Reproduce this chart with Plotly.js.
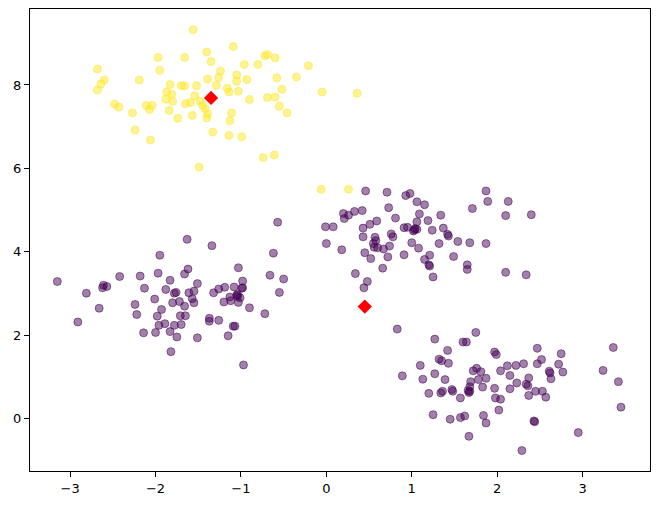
<!DOCTYPE html>
<html>
<head>
<meta charset="utf-8">
<script src="https://cdn.plot.ly/plotly-3.0.1.min.js"></script>
<style>html,body{margin:0;padding:0;background:#fff;}#chart{width:658px;height:505px;}</style>
</head>
<body>
<div id="chart"></div>
<script>
// Cluster 0 (purple) points
const purpleX = [
-3.15,-2.81,-2.91,-2.66,-2.61,-2.57,-2.62,-2.42,-2.18,-2.13,-2.24,-2.22,-2.14,-2.01,-1.95,-1.97,-1.93,-1.98,-2.00,-1.96,
-1.89,-1.88,-1.83,-1.80,-1.78,-1.76,-1.83,-1.82,-1.75,-1.78,-1.70,-1.71,-1.72,-1.66,-1.65,-1.63,-1.62,-1.66,-1.61,-1.57,
-1.55,-1.55,-1.51,-1.51,-1.37,-1.37,-1.34,-1.32,-1.26,-1.26,-1.20,-1.19,-1.13,-1.12,-1.15,-1.09,-1.07,-1.08,-1.05,-1.04,
-1.03,-1.03,-1.01,-0.99,-0.98,-0.98,-0.97,-0.90,-0.72,-0.66,-0.62,-0.57,-0.55,-0.50,-1.04,
0.46,0.71,0.93,0.98,1.06,1.15,1.87,1.89,2.13,1.71,0.73,0.20,0.26,0.33,0.42,0.21,1.34,2.10,2.40,1.09,
-0.01,0.08,0.43,0.51,0.59,0.81,1.06,1.19,0.91,0.95,1.02,1.04,1.06,1.24,1.37,1.42,1.43,0.43,0.57,0.55,
0.76,0.78,0.56,0.60,0.74,0.67,0.00,0.18,0.45,0.52,0.72,0.66,0.91,1.00,1.08,1.32,1.54,1.68,1.87,1.21,
1.15,1.20,1.21,1.49,1.65,1.65,1.25,2.10,2.34,0.34,0.48,0.44,0.83,1.03,0.58,
1.75,1.27,1.60,1.64,1.42,1.97,1.99,2.47,2.75,3.36,1.32,1.35,1.43,1.10,2.12,2.22,2.31,2.47,2.52,2.72,
2.04,1.72,1.76,1.81,2.61,2.62,2.77,3.24,0.89,1.13,1.27,1.39,1.78,1.87,1.69,2.15,2.37,2.63,3.42,2.23,
2.34,2.36,1.68,1.83,1.97,2.15,2.45,2.53,1.20,1.34,1.36,1.47,1.48,1.66,1.67,1.57,2.37,2.57,1.98,2.04,
2.02,1.25,1.45,1.57,1.62,1.84,1.87,2.43,2.44,1.67,2.29,2.95,3.45,1.68
];
const purpleY = [
3.29,3.01,2.32,2.65,3.20,3.17,3.14,3.41,3.42,3.13,2.74,2.50,2.06,2.87,3.92,3.49,2.62,2.46,2.07,2.24,
2.28,3.10,3.32,2.78,3.01,3.03,2.09,1.61,1.96,2.24,2.26,2.47,2.81,2.70,2.47,4.30,3.59,3.47,3.02,2.88,
2.78,3.06,3.24,1.94,2.41,2.34,4.15,3.02,3.11,2.36,2.80,3.15,2.92,2.83,1.99,2.22,2.22,3.16,2.96,2.98,
3.62,2.79,2.90,3.13,3.30,3.14,1.29,2.66,2.52,3.44,3.97,4.71,3.03,3.35,2.93,
5.46,5.43,5.35,5.40,5.20,5.13,5.46,5.21,5.21,5.04,5.06,4.92,4.88,4.97,4.99,4.80,4.88,4.87,4.89,4.91,
4.60,4.60,4.57,4.66,4.74,4.81,4.72,4.75,4.58,4.59,4.50,4.56,4.54,4.52,4.57,4.42,4.38,4.36,4.35,4.20,
4.43,4.36,4.11,4.10,4.14,4.07,4.20,4.05,3.98,3.84,3.88,3.61,3.93,4.22,4.09,4.20,4.25,4.22,4.20,3.92,
3.82,3.69,3.66,3.89,3.69,3.58,3.40,3.51,3.45,3.48,3.29,3.14,2.15,4.53,4.27,
2.07,1.91,1.84,1.84,1.64,1.60,1.54,1.69,1.56,1.71,1.43,1.39,1.33,1.28,1.27,1.28,1.32,1.32,1.42,1.31,
1.15,1.15,1.21,1.13,1.14,1.10,1.12,1.16,1.03,0.95,1.08,0.94,0.94,0.97,0.89,1.04,0.98,0.96,0.89,0.86,
0.83,0.79,0.77,0.76,0.73,0.72,0.66,0.66,0.61,0.62,0.66,0.70,0.66,0.68,0.63,0.50,0.56,0.52,0.50,0.47,
0.21,0.10,-0.01,0.03,0.07,0.08,-0.10,-0.05,-0.07,-0.42,-0.76,-0.33,0.28,0.66
];
// Cluster 1 (yellow) points
const yellowX = [
-1.56,-1.97,-1.66,-1.40,-1.35,-2.68,-1.95,-2.60,-2.64,-2.68,-2.19,-1.83,-1.70,-1.66,-1.52,-1.39,-1.87,-1.81,-1.88,-1.80,
-1.54,-1.65,-1.59,-1.48,-1.45,-1.42,-1.39,-1.40,-1.33,-1.84,-1.74,-1.57,-2.11,-2.04,-2.07,-2.48,-2.43,-2.27,-2.24,-2.06,
-1.49,-1.09,-0.72,-0.69,-0.60,-0.96,-0.80,-0.21,-1.24,-1.05,-1.26,-1.05,-0.93,-0.58,-0.35,-1.29,-1.16,-1.14,-1.03,-0.52,
-0.05,-0.90,-0.69,-0.60,-1.11,-1.13,-0.55,-0.46,-1.14,-0.99,-0.74,-0.61,-0.06,0.26,0.36
];
const yellowY = [
9.32,8.66,8.66,8.79,8.56,8.38,8.35,8.12,8.02,7.88,8.12,8.01,7.98,7.98,7.98,8.14,7.83,7.78,7.66,7.61,
7.74,7.55,7.58,7.61,7.51,7.43,7.31,7.21,6.87,7.39,7.20,7.27,7.51,7.51,7.41,7.54,7.47,7.33,6.92,6.68,
6.03,8.92,8.70,8.73,8.65,8.49,8.49,8.46,8.33,8.24,8.18,8.09,8.13,8.17,8.19,7.99,7.92,7.83,7.85,7.90,
7.83,7.65,7.70,7.71,7.33,7.14,7.49,7.33,6.79,6.76,6.26,6.32,5.50,5.50,7.80
];
// Cluster centres
const centerX = [-1.35, 0.45];
const centerY = [7.69, 2.69];
// Tick labels
const xTicks = [-3, -2, -1, 0, 1, 2, 3];
const yTicks = [0, 2, 4, 6, 8];

const purple = 'rgba(68,1,84,0.5)';
const yellow = 'rgba(253,231,37,0.5)';

const traces = [
  {x: purpleX, y: purpleY, type: 'scatter', mode: 'markers',
   marker: {size: 8, color: purple, line: {color: purple, width: 1}}},
  {x: yellowX, y: yellowY, type: 'scatter', mode: 'markers',
   marker: {size: 8, color: yellow, line: {color: yellow, width: 1}}},
  {x: centerX, y: centerY, type: 'scatter', mode: 'markers',
   marker: {symbol: 'diamond', size: 11, color: 'red', line: {width: 0}}}
];

const axisBase = {
  showgrid: false, zeroline: false, showline: true, mirror: true,
  linecolor: 'black', linewidth: 1, ticks: 'outside', ticklen: 5,
  tickwidth: 1, tickcolor: 'black',
  tickfont: {family: 'DejaVu Sans', size: 13, color: 'black'}
};

const layout = {
  width: 658, height: 505,
  margin: {l: 30, r: 8, t: 9, b: 34},
  paper_bgcolor: 'white', plot_bgcolor: 'white',
  showlegend: false,
  xaxis: Object.assign({}, axisBase, {range: [-3.47, 3.79], tickvals: xTicks}),
  yaxis: Object.assign({}, axisBase, {range: [-1.25, 9.82], tickvals: yTicks})
};

Plotly.newPlot('chart', traces, layout, {displayModeBar: false, staticPlot: true});
</script>
</body>
</html>
